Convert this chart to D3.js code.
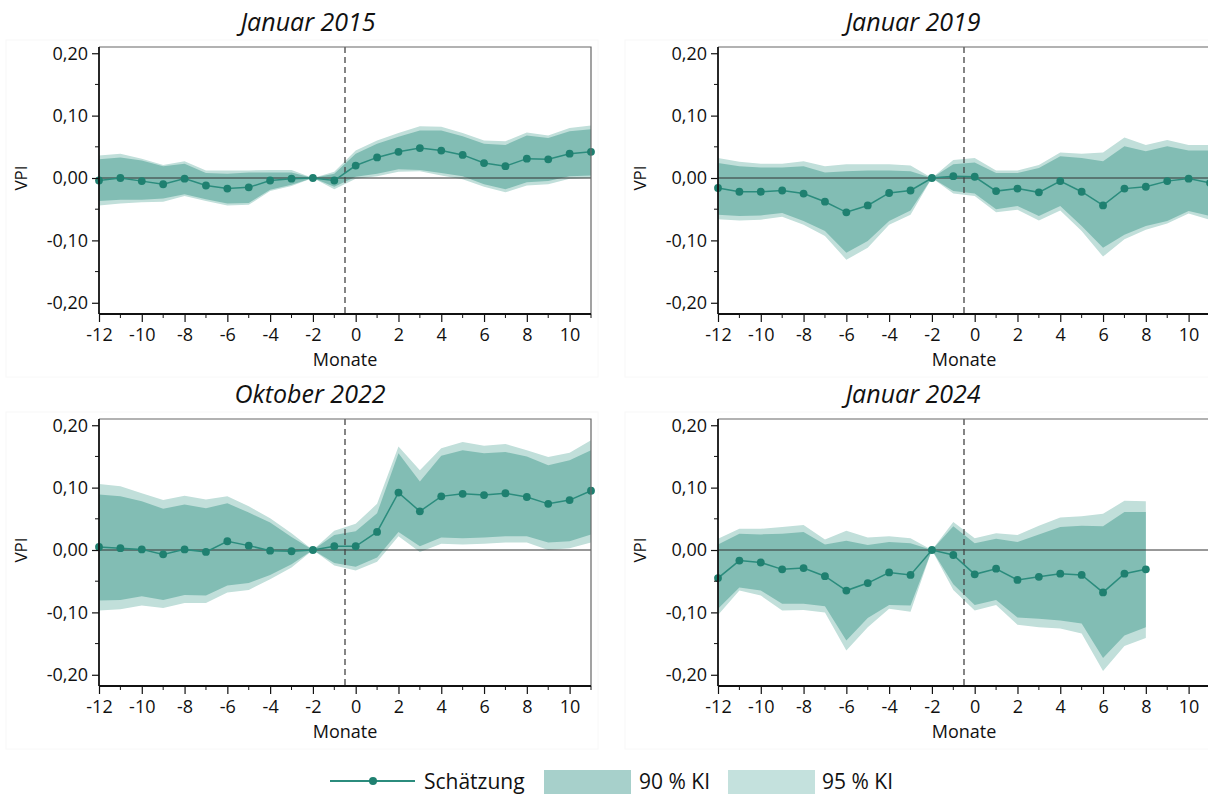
<!DOCTYPE html>
<html><head><meta charset="utf-8">
<script src="https://cdn.jsdelivr.net/npm/d3@7"></script>
<style>
body{margin:0;background:#fff;}
text{font-family:"Open Sans","Noto Sans",sans-serif;fill:#111;}
</style></head><body>
<svg id="c" width="1208" height="794"></svg>
<script>
// ---------- data ----------
const months = d3.range(-12, 12);
const months2024 = d3.range(-12, 9);
const xTickValues = [-12,-10,-8,-6,-4,-2,0,2,4,6,8,10];
const yTickValues = [-0.2,-0.1,0,0.1,0.2];
const panelTitles = ["Januar 2015","Januar 2019","Oktober 2022","Januar 2024"];
const legendLabels = ["Schätzung","90 % KI","95 % KI"];

const est2015 = [-0.004,0.000,-0.005,-0.010,-0.001,-0.012,-0.017,-0.015,-0.004,-0.001,0,-0.004,0.020,0.033,0.042,0.048,0.044,0.037,0.024,0.019,0.031,0.030,0.039,0.042];
const hi90_2015 = [0.030,0.033,0.028,0.019,0.023,0.008,0.007,0.009,0.009,0.009,0,0.007,0.039,0.055,0.066,0.076,0.076,0.067,0.055,0.053,0.068,0.064,0.075,0.078];
const lo90_2015 = [-0.037,-0.035,-0.035,-0.033,-0.026,-0.034,-0.041,-0.040,-0.019,-0.011,0,-0.014,0.002,0.007,0.014,0.013,0.008,0.003,-0.010,-0.018,-0.007,-0.005,0.003,0.004];
const hi95_2015 = [0.036,0.039,0.031,0.021,0.027,0.012,0.012,0.012,0.013,0.013,0,0.010,0.044,0.060,0.072,0.083,0.082,0.072,0.060,0.059,0.073,0.068,0.080,0.084];
const lo95_2015 = [-0.044,-0.041,-0.039,-0.038,-0.029,-0.037,-0.044,-0.043,-0.021,-0.013,0,-0.018,-0.001,0.003,0.010,0.011,0.004,-0.002,-0.014,-0.023,-0.012,-0.010,-0.001,0.000];

const est2019 = [-0.016,-0.022,-0.022,-0.020,-0.025,-0.038,-0.055,-0.044,-0.024,-0.020,0,0.003,0.002,-0.021,-0.017,-0.023,-0.005,-0.022,-0.044,-0.017,-0.014,-0.005,-0.001,-0.008];
const hi90_2019 = [0.024,0.019,0.017,0.017,0.019,0.009,0.011,0.012,0.012,0.011,0,0.022,0.025,0.008,0.008,0.016,0.035,0.032,0.027,0.051,0.043,0.051,0.044,0.044];
const lo90_2019 = [-0.059,-0.061,-0.060,-0.056,-0.069,-0.085,-0.120,-0.101,-0.069,-0.052,0,-0.021,-0.025,-0.050,-0.045,-0.061,-0.045,-0.077,-0.112,-0.091,-0.077,-0.069,-0.053,-0.061];
const hi95_2019 = [0.032,0.026,0.023,0.023,0.027,0.019,0.022,0.022,0.022,0.020,0,0.029,0.032,0.012,0.012,0.021,0.041,0.039,0.041,0.065,0.053,0.061,0.053,0.053];
const lo95_2019 = [-0.066,-0.068,-0.067,-0.062,-0.075,-0.093,-0.131,-0.112,-0.075,-0.059,0,-0.025,-0.029,-0.055,-0.051,-0.068,-0.052,-0.085,-0.126,-0.098,-0.083,-0.073,-0.057,-0.067];

const est2022 = [0.005,0.003,0.001,-0.007,0.001,-0.003,0.014,0.007,-0.001,-0.002,0,0.006,0.006,0.029,0.092,0.062,0.086,0.090,0.088,0.091,0.085,0.074,0.080,0.095];
const hi90_2022 = [0.089,0.086,0.078,0.066,0.073,0.067,0.075,0.060,0.044,0.021,0,0.024,0.030,0.059,0.155,0.110,0.151,0.160,0.155,0.157,0.150,0.136,0.144,0.160];
const lo90_2022 = [-0.081,-0.080,-0.074,-0.080,-0.072,-0.073,-0.057,-0.053,-0.040,-0.023,0,-0.021,-0.027,-0.012,0.029,0.006,0.020,0.019,0.020,0.022,0.022,0.012,0.014,0.025];
const hi95_2022 = [0.106,0.102,0.091,0.080,0.087,0.081,0.086,0.070,0.051,0.027,0,0.031,0.042,0.074,0.166,0.128,0.163,0.173,0.167,0.170,0.160,0.149,0.156,0.176];
const lo95_2022 = [-0.097,-0.095,-0.089,-0.093,-0.085,-0.085,-0.068,-0.064,-0.047,-0.028,0,-0.025,-0.033,-0.019,0.022,-0.003,0.010,0.009,0.010,0.012,0.012,0.000,0.003,0.012];

const est2024 = [-0.045,-0.017,-0.020,-0.031,-0.029,-0.042,-0.065,-0.053,-0.036,-0.040,0,-0.008,-0.039,-0.030,-0.048,-0.043,-0.038,-0.040,-0.068,-0.038,-0.031];
const hi90_2024 = [0.009,0.026,0.025,0.026,0.029,0.009,0.015,0.008,0.013,0.011,0,0.038,0.011,0.018,0.013,0.025,0.037,0.039,0.038,0.061,0.061];
const lo90_2024 = [-0.094,-0.060,-0.065,-0.086,-0.086,-0.090,-0.145,-0.109,-0.088,-0.089,0,-0.055,-0.088,-0.080,-0.108,-0.110,-0.113,-0.118,-0.173,-0.137,-0.124];
const hi95_2024 = [0.018,0.034,0.034,0.037,0.040,0.017,0.031,0.020,0.022,0.019,0,0.045,0.019,0.027,0.024,0.039,0.052,0.054,0.058,0.079,0.078];
const lo95_2024 = [-0.104,-0.065,-0.073,-0.097,-0.096,-0.100,-0.161,-0.124,-0.094,-0.099,0,-0.064,-0.097,-0.088,-0.120,-0.124,-0.126,-0.134,-0.194,-0.154,-0.141];

// ---------- styles ----------
const C_LINE = "#2b8c7d", C_DOT = "#1f8070", C_90 = "#82bdb4", C_95 = "#c1dfda";
const C_L90 = "#a7d0cb", C_L95 = "#c4e1dd";

const svg = d3.select("#c");
const fmt = v => (v < 0 ? "-" : "") + Math.abs(v).toFixed(2).replace(".", ",");

const panels = [
  {title: panelTitles[0], m: months, est: est2015, h90: hi90_2015, l90: lo90_2015, h95: hi95_2015, l95: lo95_2015, x0: 99, y0: 47, tx: 308},
  {title: panelTitles[1], m: months, est: est2019, h90: hi90_2019, l90: lo90_2019, h95: hi95_2019, l95: lo95_2019, x0: 718, y0: 47, tx: 913},
  {title: panelTitles[2], m: months, est: est2022, h90: hi90_2022, l90: lo90_2022, h95: hi95_2022, l95: lo95_2022, x0: 99, y0: 419, tx: 310},
  {title: panelTitles[3], m: months2024, est: est2024, h90: hi90_2024, l90: lo90_2024, h95: hi95_2024, l95: lo95_2024, x0: 718, y0: 419, tx: 913}
];
const W = 492, H = 267;

panels.forEach(p => {
  const g = svg.append("g");
  // faint panel frame
  g.append("rect").attr("x", p.x0 - 93).attr("y", p.y0 - 7).attr("width", W + 100).attr("height", H + 70)
    .attr("fill", "none").attr("stroke", "#f8f8f8");

  const x = d3.scaleLinear().domain([-12, 11]).range([p.x0, p.x0 + W]);
  const y = d3.scaleLinear().domain([-0.218, 0.21]).range([p.y0 + H, p.y0]);
  const idx = d3.range(p.m.length);

  const area = (hi, lo) => d3.area().x(i => x(p.m[i])).y0(i => y(lo[i])).y1(i => y(hi[i]));
  g.append("path").datum(idx).attr("d", area(p.h95, p.l95)).attr("fill", C_95);
  g.append("path").datum(idx).attr("d", area(p.h90, p.l90)).attr("fill", C_90);

  // zero line
  g.append("line").attr("x1", x(-12)).attr("x2", x(11)).attr("y1", y(0)).attr("y2", y(0))
    .attr("stroke", "#333").attr("stroke-width", 1);
  // dashed
  g.append("line").attr("x1", x(-0.5)).attr("x2", x(-0.5)).attr("y1", y(0.21)).attr("y2", y(-0.218))
    .attr("stroke", "#444").attr("stroke-width", 1.3).attr("stroke-dasharray", "6,4");

  // estimate
  g.append("path").datum(idx)
    .attr("d", d3.line().x(i => x(p.m[i])).y(i => y(p.est[i])))
    .attr("fill", "none").attr("stroke", C_LINE).attr("stroke-width", 1.5);
  g.selectAll("circle.d").data(idx).join("circle")
    .attr("cx", i => x(p.m[i])).attr("cy", i => y(p.est[i])).attr("r", 3.9).attr("fill", C_DOT);

  // top/right frame
  g.append("path").attr("d", `M${x(-12)},${y(0.21)}H${x(11)}V${y(-0.218)}`)
    .attr("fill", "none").attr("stroke", "#666").attr("stroke-width", 1.2);

  // axes
  const yAx = g.append("g").attr("transform", `translate(${x(-12)},0)`)
    .call(d3.axisLeft(y).tickValues(yTickValues).tickFormat(fmt).tickSize(7).tickPadding(4));
  yAx.append("g").selectAll("line").data([-0.15,-0.05,0.05,0.15]).join("line")
    .attr("x1", -4).attr("x2", 0).attr("y1", d => y(d)).attr("y2", d => y(d)).attr("stroke", "#111");
  const xAx = g.append("g").attr("transform", `translate(0,${y(-0.218)})`)
    .call(d3.axisBottom(x).tickValues(xTickValues).tickFormat(d => String(d)).tickSize(8).tickPadding(6));
  xAx.append("g").selectAll("line").data(d3.range(-11, 12, 2)).join("line")
    .attr("x1", d => x(d)).attr("x2", d => x(d)).attr("y1", 0).attr("y2", 4).attr("stroke", "#111");
  [yAx, xAx].forEach(a => {
    a.select(".domain").attr("stroke", "#111").attr("stroke-width", 1.8);
    a.selectAll(".tick line").attr("stroke", "#111").attr("stroke-width", 1.2);
    a.selectAll("text").style("font-size", "18px").attr("fill", "#111");
  });
  yAx.select(".domain").attr("d", `M0,${y(0.21)}V${y(-0.218)}`);
  xAx.select(".domain").attr("d", `M${x(-12)},0H${x(11)}`);

  // labels
  g.append("text").attr("x", (x(-12) + x(11)) / 2).attr("y", p.y0 + H + 52)
    .attr("text-anchor", "middle").style("font-size", "18px").text("Monate");
  g.append("text").attr("transform", `translate(${p.x0 - 72},${y(0)}) rotate(-90)`)
    .attr("text-anchor", "middle").style("font-size", "17px").text("VPI");
  g.append("text").attr("x", p.tx).attr("y", p.y0 - 16).attr("text-anchor", "middle")
    .style("font-size", "25px").style("font-style", "italic").text(p.title);
});

// legend
const lg = svg.append("g");
lg.append("line").attr("x1", 330).attr("x2", 415).attr("y1", 781).attr("y2", 781).attr("stroke", C_LINE).attr("stroke-width", 2);
lg.append("circle").attr("cx", 373).attr("cy", 781).attr("r", 4).attr("fill", C_DOT);
lg.append("text").attr("x", 424).attr("y", 789).style("font-size", "21px").text(legendLabels[0]);
lg.append("rect").attr("x", 544).attr("y", 770).attr("width", 87).attr("height", 30).attr("fill", C_L90);
lg.append("text").attr("x", 639).attr("y", 789).style("font-size", "21px").text(legendLabels[1]);
lg.append("rect").attr("x", 728).attr("y", 770).attr("width", 87).attr("height", 30).attr("fill", C_L95);
lg.append("text").attr("x", 822).attr("y", 789).style("font-size", "21px").text(legendLabels[2]);
</script></body></html>
